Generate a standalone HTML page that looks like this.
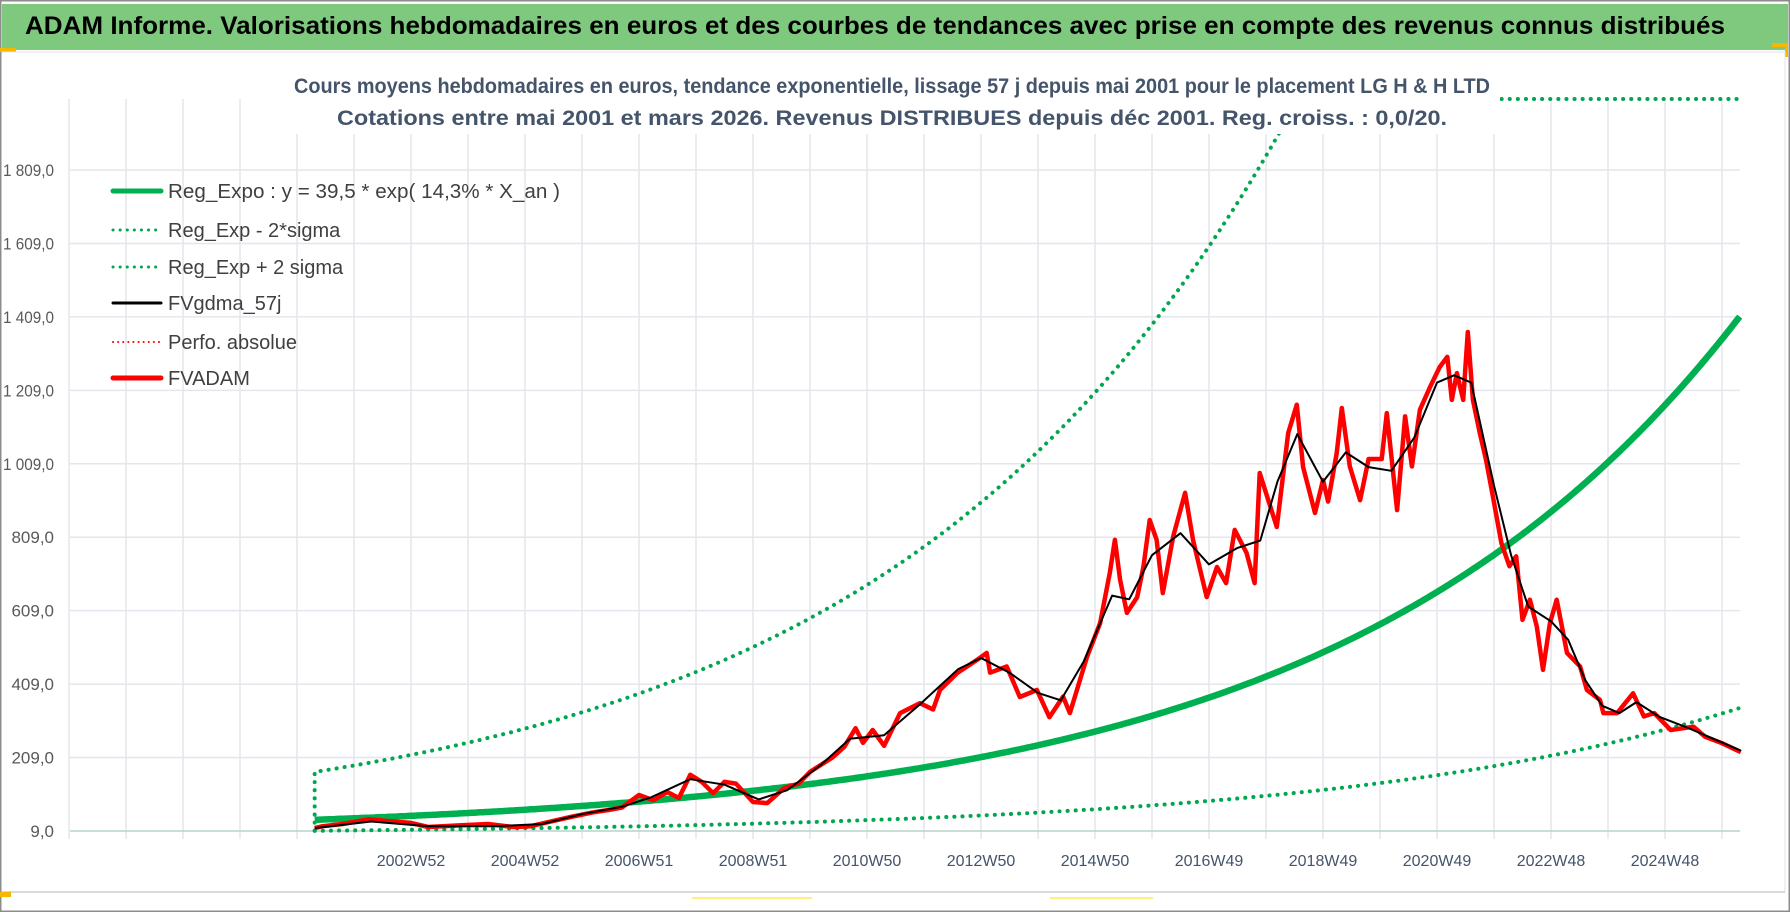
<!DOCTYPE html>
<html><head><meta charset="utf-8">
<style>
html,body{margin:0;padding:0;background:#fff;}
svg{display:block;font-family:"Liberation Sans",sans-serif;}
</style></head>
<body>
<svg id="chart" width="1790" height="912" viewBox="0 0 1790 912">
  <rect x="0" y="0" width="1790" height="912" fill="#fff"/>
  <rect x="0.5" y="0.5" width="1789" height="911" fill="none" stroke="#8c8c8c" stroke-width="2"/>
  <rect x="2" y="4" width="1786" height="46" fill="#7fc97f"/>
  <text x="25" y="34" font-size="25" font-weight="bold" fill="#000" textLength="1700" lengthAdjust="spacingAndGlyphs">ADAM Informe. Valorisations hebdomadaires en euros et des courbes de tendances avec prise en compte des revenus connus distribués</text>
  <rect x="0" y="48" width="16" height="4" fill="#f5b800"/>
  <rect x="1772" y="43" width="16" height="4" fill="#f5b800"/>
  <rect x="1785" y="43" width="3" height="14" fill="#f5b800"/>
  <line x1="2" y1="52" x2="1785" y2="52" stroke="#dfe3ea" stroke-width="1"/>
  <line x1="1785" y1="52" x2="1785" y2="892" stroke="#dfe3ea" stroke-width="1"/>
  <line x1="2" y1="892" x2="1785" y2="892" stroke="#d9d9d9" stroke-width="2"/>
  <rect x="0" y="892" width="11" height="5" fill="#f5b800"/>
  <line x1="692" y1="898" x2="812" y2="898" stroke="#fff27a" stroke-width="2"/>
  <line x1="1050" y1="898" x2="1153" y2="898" stroke="#fff27a" stroke-width="2"/>
  <g id="grid"></g>
  <g id="series"></g>
  <rect x="285" y="62" width="1215" height="72" fill="#fff"/>
  <text x="294" y="93" font-size="21" font-weight="bold" fill="#44546a" textLength="1196" lengthAdjust="spacingAndGlyphs">Cours moyens hebdomadaires en euros, tendance exponentielle, lissage 57 j depuis mai 2001 pour le placement LG H &amp; H LTD</text>
  <text x="337" y="125" font-size="21" font-weight="bold" fill="#44546a" textLength="1110" lengthAdjust="spacingAndGlyphs">Cotations entre mai 2001 et mars 2026. Revenus DISTRIBUES depuis déc 2001. Reg. croiss. : 0,0/20.</text>
  <g id="axes"></g>
  <g id="legend"></g>
</svg>
<script>
// ---- data ----
const yTicks = [9, 209, 409, 609, 809, 1009, 1209, 1409, 1609, 1809];
const yTickLabels = ["9,0","209,0","409,0","609,0","809,0","1 009,0","1 209,0","1 409,0","1 609,0","1 809,0"];
const xTickYears = [2003, 2005, 2007, 2009, 2011, 2013, 2015, 2017, 2019, 2021, 2023, 2025];
const xTickLabels = ["2002W52","2004W52","2006W51","2008W51","2010W50","2012W50","2014W50","2016W49","2018W49","2020W49","2022W48","2024W48"];
const regParams = [39.5, 0.143];          // a, b of y = a*exp(b*X_an)
const regStartEnd = [2001.31, 2026.33];   // first / last date (years)
const sigmaFactors = [4.1, 4.3];          // lower divisor, upper multiplier
const redT = [2001.31,2001.45,2001.8,2002.26,2002.6,2003.0,2003.3,2003.8,2004.35,2004.8,2005.1,2005.4,2005.8,2006.2,2006.45,2006.7,2007.0,2007.25,2007.5,2007.7,2007.9,2008.1,2008.3,2008.5,2008.7,2009.0,2009.25,2009.55,2009.8,2010.0,2010.4,2010.6,2010.8,2010.93,2011.1,2011.3,2011.58,2011.93,2012.16,2012.28,2012.58,2012.93,2013.1,2013.16,2013.45,2013.68,2013.98,2014.2,2014.44,2014.56,2014.86,2015.09,2015.26,2015.35,2015.44,2015.56,2015.74,2015.85,2015.96,2016.08,2016.19,2016.37,2016.58,2016.72,2016.96,2017.14,2017.3,2017.45,2017.66,2017.8,2017.89,2018.19,2018.39,2018.54,2018.65,2018.86,2019.0,2019.09,2019.24,2019.33,2019.47,2019.65,2019.8,2020.03,2020.12,2020.3,2020.44,2020.56,2020.7,2020.88,2021.05,2021.18,2021.26,2021.35,2021.46,2021.54,2021.63,2021.75,2021.86,2021.97,2022.13,2022.27,2022.39,2022.5,2022.63,2022.75,2022.86,2022.98,2023.1,2023.28,2023.51,2023.63,2023.86,2023.92,2024.16,2024.44,2024.63,2024.81,2025.1,2025.5,2025.7,2026.0,2026.33];
const redV = [17,22,28,41,36,31,20,24,28,20,22,33,47,60,66,73,107,93,115,99,162,143,112,143,138,88,85,126,138,170,210,238,289,249,284,241,330,357,340,393,439,475,494,440,457,374,393,319,375,330,483,575,712,802,693,603,646,728,856,802,657,810,930,802,646,728,684,829,766,684,984,837,1093,1170,1000,875,965,906,1038,1161,1002,910,1022,1022,1147,883,1138,1002,1156,1219,1273,1300,1183,1256,1183,1368,1183,1093,1020,929,793,730,757,584,639,566,448,575,639,494,457,393,366,330,330,384,321,330,284,293,266,248,224];
const blackT = [2001.31,2002.3,2003.3,2004.5,2005.3,2006.0,2006.7,2007.2,2007.9,2008.5,2009.1,2009.6,2010.2,2010.7,2011.3,2011.9,2012.6,2013.0,2013.5,2014.0,2014.4,2014.8,2015.3,2015.6,2016.0,2016.5,2017.0,2017.5,2017.9,2018.2,2018.55,2019.0,2019.4,2019.8,2020.2,2020.6,2021.0,2021.3,2021.6,2022.0,2022.3,2022.6,2023.0,2023.3,2023.6,2023.9,2024.2,2024.5,2024.9,2025.4,2026.33];
const blackV = [17,35,22,22,28,55,75,100,150,135,95,120,190,260,270,350,450,480,440,385,365,470,650,640,760,820,735,780,800,960,1090,960,1040,1000,990,1080,1230,1250,1230,950,760,620,580,530,420,350,330,360,320,290,228];

// ---- axis functions ----
const X0 = 411, PX_PER_YEAR = 57, PLOT_L = 70, PLOT_R = 1740, PLOT_T = 99, Y_BASE = 831, PX_PER_UNIT = 73.44/200;
function xs(t){ return X0 + (t - 2003) * PX_PER_YEAR; }
function ys(v){ return Math.max(PLOT_T, Y_BASE - (v - 9) * PX_PER_UNIT); }
const NS = "http://www.w3.org/2000/svg";
function mk(tag, parent){ const e = document.createElementNS(NS, tag); parent.appendChild(e); return e; }
const grid = document.getElementById('grid'), series = document.getElementById('series'), axes = document.getElementById('axes'), legend = document.getElementById('legend');

// gridlines
for (let yr = 1997; yr <= 2026; yr++) {
  const l = mk('line', grid);
  
  
  const x = xs(yr);
  l.setAttribute('x1', x); l.setAttribute('x2', x); l.setAttribute('y1', PLOT_T); l.setAttribute('y2', Y_BASE + 8);
  l.setAttribute('stroke', '#e3e6ec'); l.setAttribute('stroke-width', '1.5');
}
yTicks.forEach((v, i) => {
  const l = mk('line', grid);
  
  
  l.setAttribute('x1', PLOT_L); l.setAttribute('x2', PLOT_R); l.setAttribute('y1', ys(v)); l.setAttribute('y2', ys(v));
  l.setAttribute('stroke', i === 0 ? '#b9d3cc' : '#e3e6ec'); l.setAttribute('stroke-width', '1.5');
  const t = mk('text', axes);
  
  
  t.setAttribute('x', 54); t.setAttribute('y', ys(v) + 6);
  t.setAttribute('text-anchor', 'end'); t.setAttribute('font-size', '17'); t.setAttribute('fill', '#595959');
  if (yTickLabels[i].length > 6) { t.setAttribute('textLength', 51); t.setAttribute('lengthAdjust', 'spacingAndGlyphs'); }
  t.textContent = yTickLabels[i];
});
xTickYears.forEach((yr, i) => {
  const t = mk('text', axes);
  
  
  t.setAttribute('x', xs(yr)); t.setAttribute('y', 866);
  t.setAttribute('text-anchor', 'middle'); t.setAttribute('font-size', '16'); t.setAttribute('fill', '#44546a');
  t.textContent = xTickLabels[i];
});

function pathFrom(ts, vs){ return ts.map((t, i) => (i ? 'L' : 'M') + xs(t).toFixed(1) + ',' + ys(vs[i]).toFixed(1)).join(''); }
function trendAt(t){ return regParams[0] * Math.exp(regParams[1] * (t - regStartEnd[0])); }
const tt = [];
for (let t = regStartEnd[0]; t <= regStartEnd[1] + 1e-9; t += 0.05) tt.push(t);
const trendV = tt.map(trendAt);
const lowV = trendV.map(v => v / sigmaFactors[0]);
const upV = trendV.map(v => v * sigmaFactors[1]);

function addPath(d, stroke, w, dash, name){
  const p = mk('path', series);
  
  
  p.setAttribute('d', d); p.setAttribute('fill', 'none'); p.setAttribute('stroke', stroke);
  p.setAttribute('stroke-width', w); p.setAttribute('stroke-linejoin', 'round');
  if (dash) { p.setAttribute('stroke-dasharray', dash); p.setAttribute('stroke-linecap', 'round'); }
  return p;
}
addPath(pathFrom(tt, lowV), '#00a650', 4, '0.1 8', 'reg-minus-2sigma-line');
addPath('M' + xs(regStartEnd[0]) + ',' + ys(lowV[0]) + 'L' + xs(regStartEnd[0]) + ',' + ys(upV[0]) + pathFrom(tt, upV).replace(/^M/, 'L') + 'L' + PLOT_R + ',' + PLOT_T, '#00a650', 4, '0.1 8', 'reg-plus-2sigma-line');
addPath(pathFrom(tt, trendV), '#00b050', 6.5, null, 'reg-expo-line');
addPath(pathFrom(redT, redV), '#ff0000', 4.5, null, 'fvadam-line');
addPath(pathFrom(blackT, blackV), '#000000', 2, null, 'fvgdma-57j-line');

// legend
const legItems = [
  ['Reg_Expo : y = 39,5 * exp( 14,3% *  X_an )', '#00b050', 5, null, 191, 392],
  ['Reg_Exp - 2*sigma', '#00a650', 3, '0.1 7', 230, 0],
  ['Reg_Exp + 2 sigma', '#00a650', 3, '0.1 7', 267, 0],
  ['FVgdma_57j', '#000000', 3, null, 303, 0],
  ['Perfo. absolue', '#ff0000', 2, '0.1 5', 342, 0],
  ['FVADAM', '#ff0000', 5, null, 378, 0]
];
legItems.forEach(it => {
  const l = mk('line', legend);
  
  
  l.setAttribute('x1', 113); l.setAttribute('x2', 161); l.setAttribute('y1', it[4]); l.setAttribute('y2', it[4]);
  l.setAttribute('stroke', it[1]); l.setAttribute('stroke-width', it[2]); l.setAttribute('stroke-linecap', 'round');
  if (it[3]) l.setAttribute('stroke-dasharray', it[3]);
  const t = mk('text', legend);
  
  
  t.setAttribute('x', 168); t.setAttribute('y', it[4] + 7);
  t.setAttribute('font-size', '20'); t.setAttribute('fill', '#404040');
  if (it[5]) { t.setAttribute('textLength', it[5]); t.setAttribute('lengthAdjust', 'spacingAndGlyphs'); }
  t.textContent = it[0];
});
</script>
</body></html>
